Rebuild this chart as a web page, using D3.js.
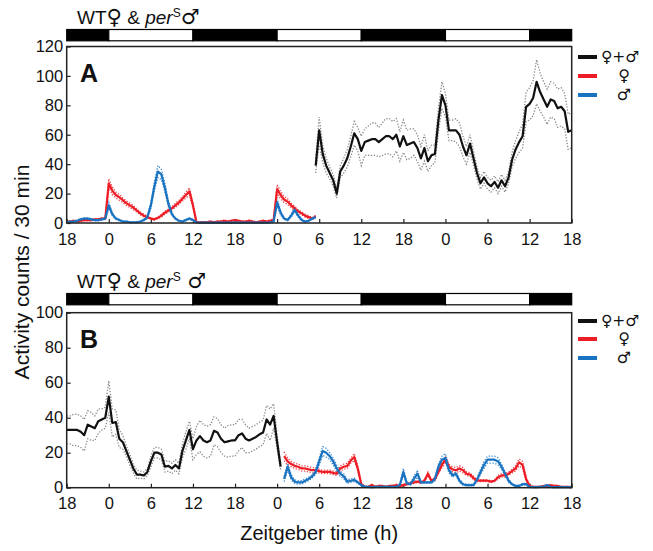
<!DOCTYPE html>
<html>
<head>
<meta charset="utf-8">
<script src="https://cdn.jsdelivr.net/npm/d3@7"></script>
<style>
  html, body { margin: 0; padding: 0; background: #fff; }
  svg { display: block; font-family: "Liberation Sans", Arial, sans-serif; }
</style>
</head>
<body>
<svg id="chart" width="653" height="551"></svg>
<script>
// ---------- DATA (values every 0.5 h; time in hours from the first ZT18 tick) ----------
const tickLabels = ["18","0","6","12","18","0","6","12","18","0","6","12","18"];
const lightStarts = [0, 6, 18, 30, 42, 54, 66];
const lightEnds   = [6, 18, 30, 42, 54, 66, 72];
const lightStates = ["D","L","D","L","D","L","D"];
const legendLabels = ["\u2640+\u2642", "\u2640", "\u2642"];

// Panel A
const aFemaleStart = 0;
const aFemale = [
  1,1,1.5,1,1.5,2,2,2,2.5,2.5,3,3,
  27,22,19,17.5,15.5,13.5,12,10.5,8.5,6.5,5,4,
  3,2.5,3.5,5,7,8.5,10,12,14,16.5,19,21.5,
  12,0.5,0.5,0.5,0.5,1,0.5,1,1,1.5,1,1.5,
  2,1.5,1,1,1.5,1,0.5,1,1.5,1,1.5,2,
  23,19,16,14.5,12,10,8,6.5,5,4,3,4.5
];
const aFemaleSem = [
  0.5,0.5,0.5,0.5,0.5,0.5,0.5,0.5,0.5,0.5,0.5,0.5,
  3,2.5,2,2,1.5,1.5,1.5,1.5,1,1,1,0.5,
  0.5,0.5,0.5,1,1,1,1,1.5,1.5,1.5,2,2.5,
  1.5,0.3,0.3,0.3,0.3,0.5,0.3,0.5,0.5,0.5,0.5,0.5,
  0.5,0.5,0.5,0.5,0.5,0.5,0.3,0.5,0.5,0.5,0.5,0.5,
  3,2.5,2,2,1.5,1.5,1,1,1,1,0.5,1
];
const aMaleStart = 0;
const aMale = [
  0.5,1,1,1.5,2.5,3,3,2.5,2,2,2.5,3,
  12,6,3,2,1,1,0.5,0.5,0.5,1,2,4,
  12,25,35,33,24,13,6,3,1.5,1,2,3,
  2,0.5,0.3,0.3,0.3,0.3,0.3,0.3,0.3,0.3,0.3,0.3,
  0.3,0.3,0.3,0.3,0.3,0.3,0.3,0.3,0.3,0.3,0.5,1,
  14,7,3,2,5,9,5,2,1,1.5,3,4
];
const aMaleSem = [
  0.5,0.5,0.5,0.5,0.5,0.5,0.5,0.5,0.5,0.5,0.5,0.5,
  2,1,0.5,0.5,0.3,0.3,0.3,0.3,0.3,0.3,0.5,1,
  2,3,4,3.5,3,2,1,0.5,0.3,0.3,0.5,0.5,
  0.5,0.3,0.2,0.2,0.2,0.2,0.2,0.2,0.2,0.2,0.2,0.2,
  0.2,0.2,0.2,0.2,0.2,0.2,0.2,0.2,0.2,0.2,0.3,0.5,
  2.5,1.5,0.5,0.5,1,1.5,1,0.5,0.3,0.3,0.5,0.5
];
const aPairStart = 35.5;
const aPair = [
  39,
  63,47,39,34,29,20,35,39,44,52,61,57,
  49,55,56,57,57,55,57,59,59,57,60,52,
  59,53,54,55,51,44,51,42,46,47,70,87,
  80,63,63,63,60,52,46,54,44,34,27,31,
  27,25,28,24,29,25,31,43,50,55,59,79,
  81,85,96,89,84,79,84,83,78,79,76,62,63
];
const aPairSem = [
  5,
  9,6,5,4,4,3,4,5,6,7,8,8,
  10,9,10,11,11,10,11,12,12,12,11,10,
  11,10,10,9,9,8,9,7,7,6,8,9,
  8,7,7,8,8,7,6,6,5,4,4,4,
  4,4,4,4,4,4,4,5,6,7,8,10,
  11,12,15,13,12,12,12,12,13,13,12,12,12
];

// Panel B
const bPairStart = 0;
const bPair = [
  33,33,33,33,32,30,36,35,34,38,39,40,
  52,37,37.5,28,26,21,16,11,7.5,7.5,7,9,
  15,20,20,19,12,12.5,11,13,11,21,27,33,
  22,27,29.5,27,26,27,32.5,31.5,28,26,26.5,27,
  27,30,31,28,27,28,29,30.5,31.5,39,36,41,
  26,12
];
const bPairSem = [
  8,8,9,9,9,9,8,8,7,7,6,6,
  9,8,7,5,4,3,3,2.5,2.5,2,2,2,
  3,3,3,3,3,3,3,3,3,4,5,5,
  6,8,9,9,9,9,8,8,8,8,9,9,
  9,9,8,8,7,7,7,7,7,8,9,7,
  4,2
];
const bFemaleStart = 31;
const bFemale = [
  18,15,13.5,12.5,12,11,11,10.5,10,10,9.5,9,
  9,9,8.5,8,11,12,12.5,15.5,17.5,11,2,0.5,
  0.5,1.5,0.5,1,1,0.5,1,1,1.5,1,1.5,2,
  2.5,3,3.5,3,4,8,4,5,9,13,16,12,
  10.5,10,11,10,8,7.5,5.5,4,4,4,4,3.5,
  4,6,7,7,8,9.5,11,14.5,13,5,1,0.5,
  0.5,0.5,1,1,1.5,1,1,0.5,0.5,0.5,0.3
];
const bFemaleSem = [
  2.5,2,1.5,1.5,1.5,1.5,1.5,1.5,1.5,1.5,1,1,
  1,1,1,1,1.5,1.5,1.5,1.5,2,1.5,0.5,0.3,
  0.3,0.5,0.3,0.3,0.3,0.3,0.3,0.3,0.5,0.3,0.5,0.5,
  0.5,0.5,0.5,0.5,0.5,1,0.5,1,1,1.5,2,1.5,
  1.5,1.5,1.5,1.5,1,1,1,0.5,0.5,0.5,0.5,0.5,
  0.5,1,1,1,1,1,1.5,2,2,1,0.3,0.3,
  0.3,0.3,0.3,0.3,0.3,0.3,0.3,0.3,0.3,0.3,0.3
];
const bMaleStart = 31;
const bMale = [
  5,12,6,3.5,3,3,4,5,6.5,9,15,21,
  20,18,15,11,8,6.5,3.5,4,4.5,3,1.5,0.5,
  0.5,0.3,0.5,0.5,0.5,0.5,0.5,0.5,0.5,1.5,9,2.5,
  2,5,8,3,3,3,3,5,12,16,17,10,
  7,8,4,2,1.5,1.5,1.5,4.5,9,13,16,16,
  16,15,12,8,4,2,1,1,2,2,0.5,0.3,
  0.3,0.5,0.5,1.5,0.5,0.3,0.3,0.3,0.3,0.3,0.3
];
const bMaleSem = [
  1.5,2,1.5,1,1,1,1,1,1,1.5,2,2.5,
  2.5,2,2,2,1.5,1.5,1,1,1,0.5,0.5,0.3,
  0.3,0.3,0.3,0.3,0.3,0.3,0.3,0.3,0.3,0.5,2,0.5,
  0.5,1.5,2,0.5,0.5,0.5,0.5,1,1.5,2,2.5,1.5,
  1,1,1,0.5,0.5,0.5,0.5,1,1.5,2,2,2,
  2,2,1.5,1,1,0.5,0.3,0.3,0.5,0.5,0.3,0.3,
  0.3,0.3,0.3,0.5,0.3,0.3,0.3,0.3,0.3,0.3,0.3
];

// ---------- DRAWING ----------
const COL = { pair: "#111111", female: "#ee1c25", male: "#1a73c1",
              pairErr: "#8a8a8a", femaleErr: "#f0464d", maleErr: "#3d8ad0" };
const FONT = "'Liberation Sans', Arial, sans-serif";
const SYM = "'DejaVu Sans', sans-serif";
const svg = d3.select("#chart");

const x = d3.scaleLinear().domain([0, 72]).range([66.7, 571.7]);

function toPts(start, vals, sem) {
  return vals.map((v, i) => ({ t: start + i * 0.5, v: v, s: sem[i] }));
}

function panel(cfg) {
  const y = d3.scaleLinear().domain([0, cfg.ymax]).range([cfg.yBottom, cfg.yTop]);
  const g = svg.append("g");

  // title
  const title = g.append("text").attr("x", 77).attr("y", cfg.titleY)
    .attr("font-size", 19).attr("font-family", FONT).attr("fill", "#111");
  title.append("tspan").text("WT");
  title.append("tspan").attr("font-family", SYM).attr("font-size", 21).text("\u2640");
  title.append("tspan").text(" & ");
  title.append("tspan").attr("font-style", "italic").text("per");
  title.append("tspan").attr("font-size", 12).attr("dy", -7).text("S");
  title.append("tspan").attr("dy", 7).attr("font-family", SYM).attr("font-size", 21).text(cfg.gap + "\u2642");

  // light/dark bar
  g.selectAll("rect.ld").data(lightStarts.map((s, i) => ({ s: s, e: lightEnds[i], st: lightStates[i] })))
    .enter().append("rect")
    .attr("x", d => x(d.s)).attr("width", d => x(d.e) - x(d.s))
    .attr("y", cfg.barY).attr("height", cfg.barH)
    .attr("fill", d => d.st === "D" ? "#000" : "#fff")
    .attr("stroke", "#000").attr("stroke-width", 1.2);

  // axes (inward ticks)
  const xAxis = d3.axisBottom(x).tickValues(d3.range(0, 73, 6))
    .tickFormat((d, i) => tickLabels[i]).tickSizeInner(-4).tickSizeOuter(0).tickPadding(10);
  const ga = g.append("g").attr("transform", `translate(0,${cfg.yBottom})`).call(xAxis);
  const yAxis = d3.axisLeft(y).tickValues(d3.range(0, cfg.ymax + 1, 20))
    .tickSizeInner(-4).tickSizeOuter(0).tickPadding(3.5);
  const gy = g.append("g").attr("transform", `translate(${x(0)},0)`).call(yAxis);
  [ga, gy].forEach(a => {
    a.select(".domain").remove();
    a.selectAll("line").attr("stroke", "#222").attr("stroke-width", 1.2);
    a.selectAll("text").attr("font-size", 16.5).attr("font-family", FONT).attr("fill", "#111");
  });

  // series
  const line = d3.line().x(d => x(d.t)).y(d => y(d.v));
  const up = d3.line().x(d => x(d.t)).y(d => y(d.v + d.s));
  const lo = d3.line().x(d => x(d.t)).y(d => y(Math.max(0, d.v - d.s)));
  cfg.series.forEach(s => {
    const p = toPts(s.start, s.vals, s.sem);
    [up, lo].forEach(gen => g.append("path").attr("d", gen(p)).attr("fill", "none")
      .attr("stroke", s.err).attr("stroke-width", 1.3).attr("stroke-dasharray", "1.3,1.6"));
  });
  cfg.series.forEach(s => {
    const p = toPts(s.start, s.vals, s.sem);
    g.append("path").attr("d", line(p)).attr("fill", "none")
      .attr("stroke", s.col).attr("stroke-width", 2.2).attr("stroke-linejoin", "round");
  });

  // box
  g.append("rect").attr("x", x(0)).attr("y", y(cfg.ymax))
    .attr("width", x(72) - x(0)).attr("height", y(0) - y(cfg.ymax))
    .attr("fill", "none").attr("stroke", "#222").attr("stroke-width", 1.5);

  // panel letter
  g.append("text").attr("x", 80).attr("y", cfg.letterY).text(cfg.letter)
    .attr("font-size", 25).attr("font-weight", "bold").attr("font-family", FONT).attr("fill", "#111");

  // legend
  const cols = [COL.pair, COL.female, COL.male];
  legendLabels.forEach((lab, i) => {
    const ly = cfg.legY[i];
    g.append("line").attr("x1", 578).attr("x2", 597).attr("y1", ly).attr("y2", ly)
      .attr("stroke", cols[i]).attr("stroke-width", 4);
    g.append("text").attr("x", i === 0 ? 601 : 624).attr("y", ly + 5)
      .attr("text-anchor", i === 0 ? "start" : "middle")
      .attr("font-size", i === 0 ? 15.5 : 16).attr("font-family", SYM).attr("fill", "#111").text(lab);
  });
}

panel({
  ymax: 120, yBottom: 223, yTop: 46.5, titleY: 24, barY: 29.5, barH: 11.3, letter: "A", letterY: 82,
  gap: "", legY: [57, 76, 95],
  series: [
    { start: aFemaleStart, vals: aFemale, sem: aFemaleSem, col: COL.female, err: COL.femaleErr },
    { start: aMaleStart, vals: aMale, sem: aMaleSem, col: COL.male, err: COL.maleErr },
    { start: aPairStart, vals: aPair, sem: aPairSem, col: COL.pair, err: COL.pairErr }
  ]
});
panel({
  ymax: 100, yBottom: 487.7, yTop: 312.7, titleY: 288, barY: 293.5, barH: 11.3, letter: "B", letterY: 348,
  gap: " ", legY: [321, 339, 358],
  series: [
    { start: bPairStart, vals: bPair, sem: bPairSem, col: COL.pair, err: COL.pairErr },
    { start: bFemaleStart, vals: bFemale, sem: bFemaleSem, col: COL.female, err: COL.femaleErr },
    { start: bMaleStart, vals: bMale, sem: bMaleSem, col: COL.male, err: COL.maleErr }
  ]
});

// axis titles
svg.append("text").attr("x", (x(0) + x(72)) / 2).attr("y", 540).attr("text-anchor", "middle")
  .attr("font-size", 20).attr("font-family", FONT).attr("fill", "#111").text("Zeitgeber time (h)");
svg.append("text").attr("transform", "translate(21,272) rotate(-90)").attr("text-anchor", "middle")
  .attr("dominant-baseline", "central")
  .attr("font-size", 21).attr("font-family", FONT).attr("fill", "#111").text("Activity counts / 30 min");
</script>
</body>
</html>
